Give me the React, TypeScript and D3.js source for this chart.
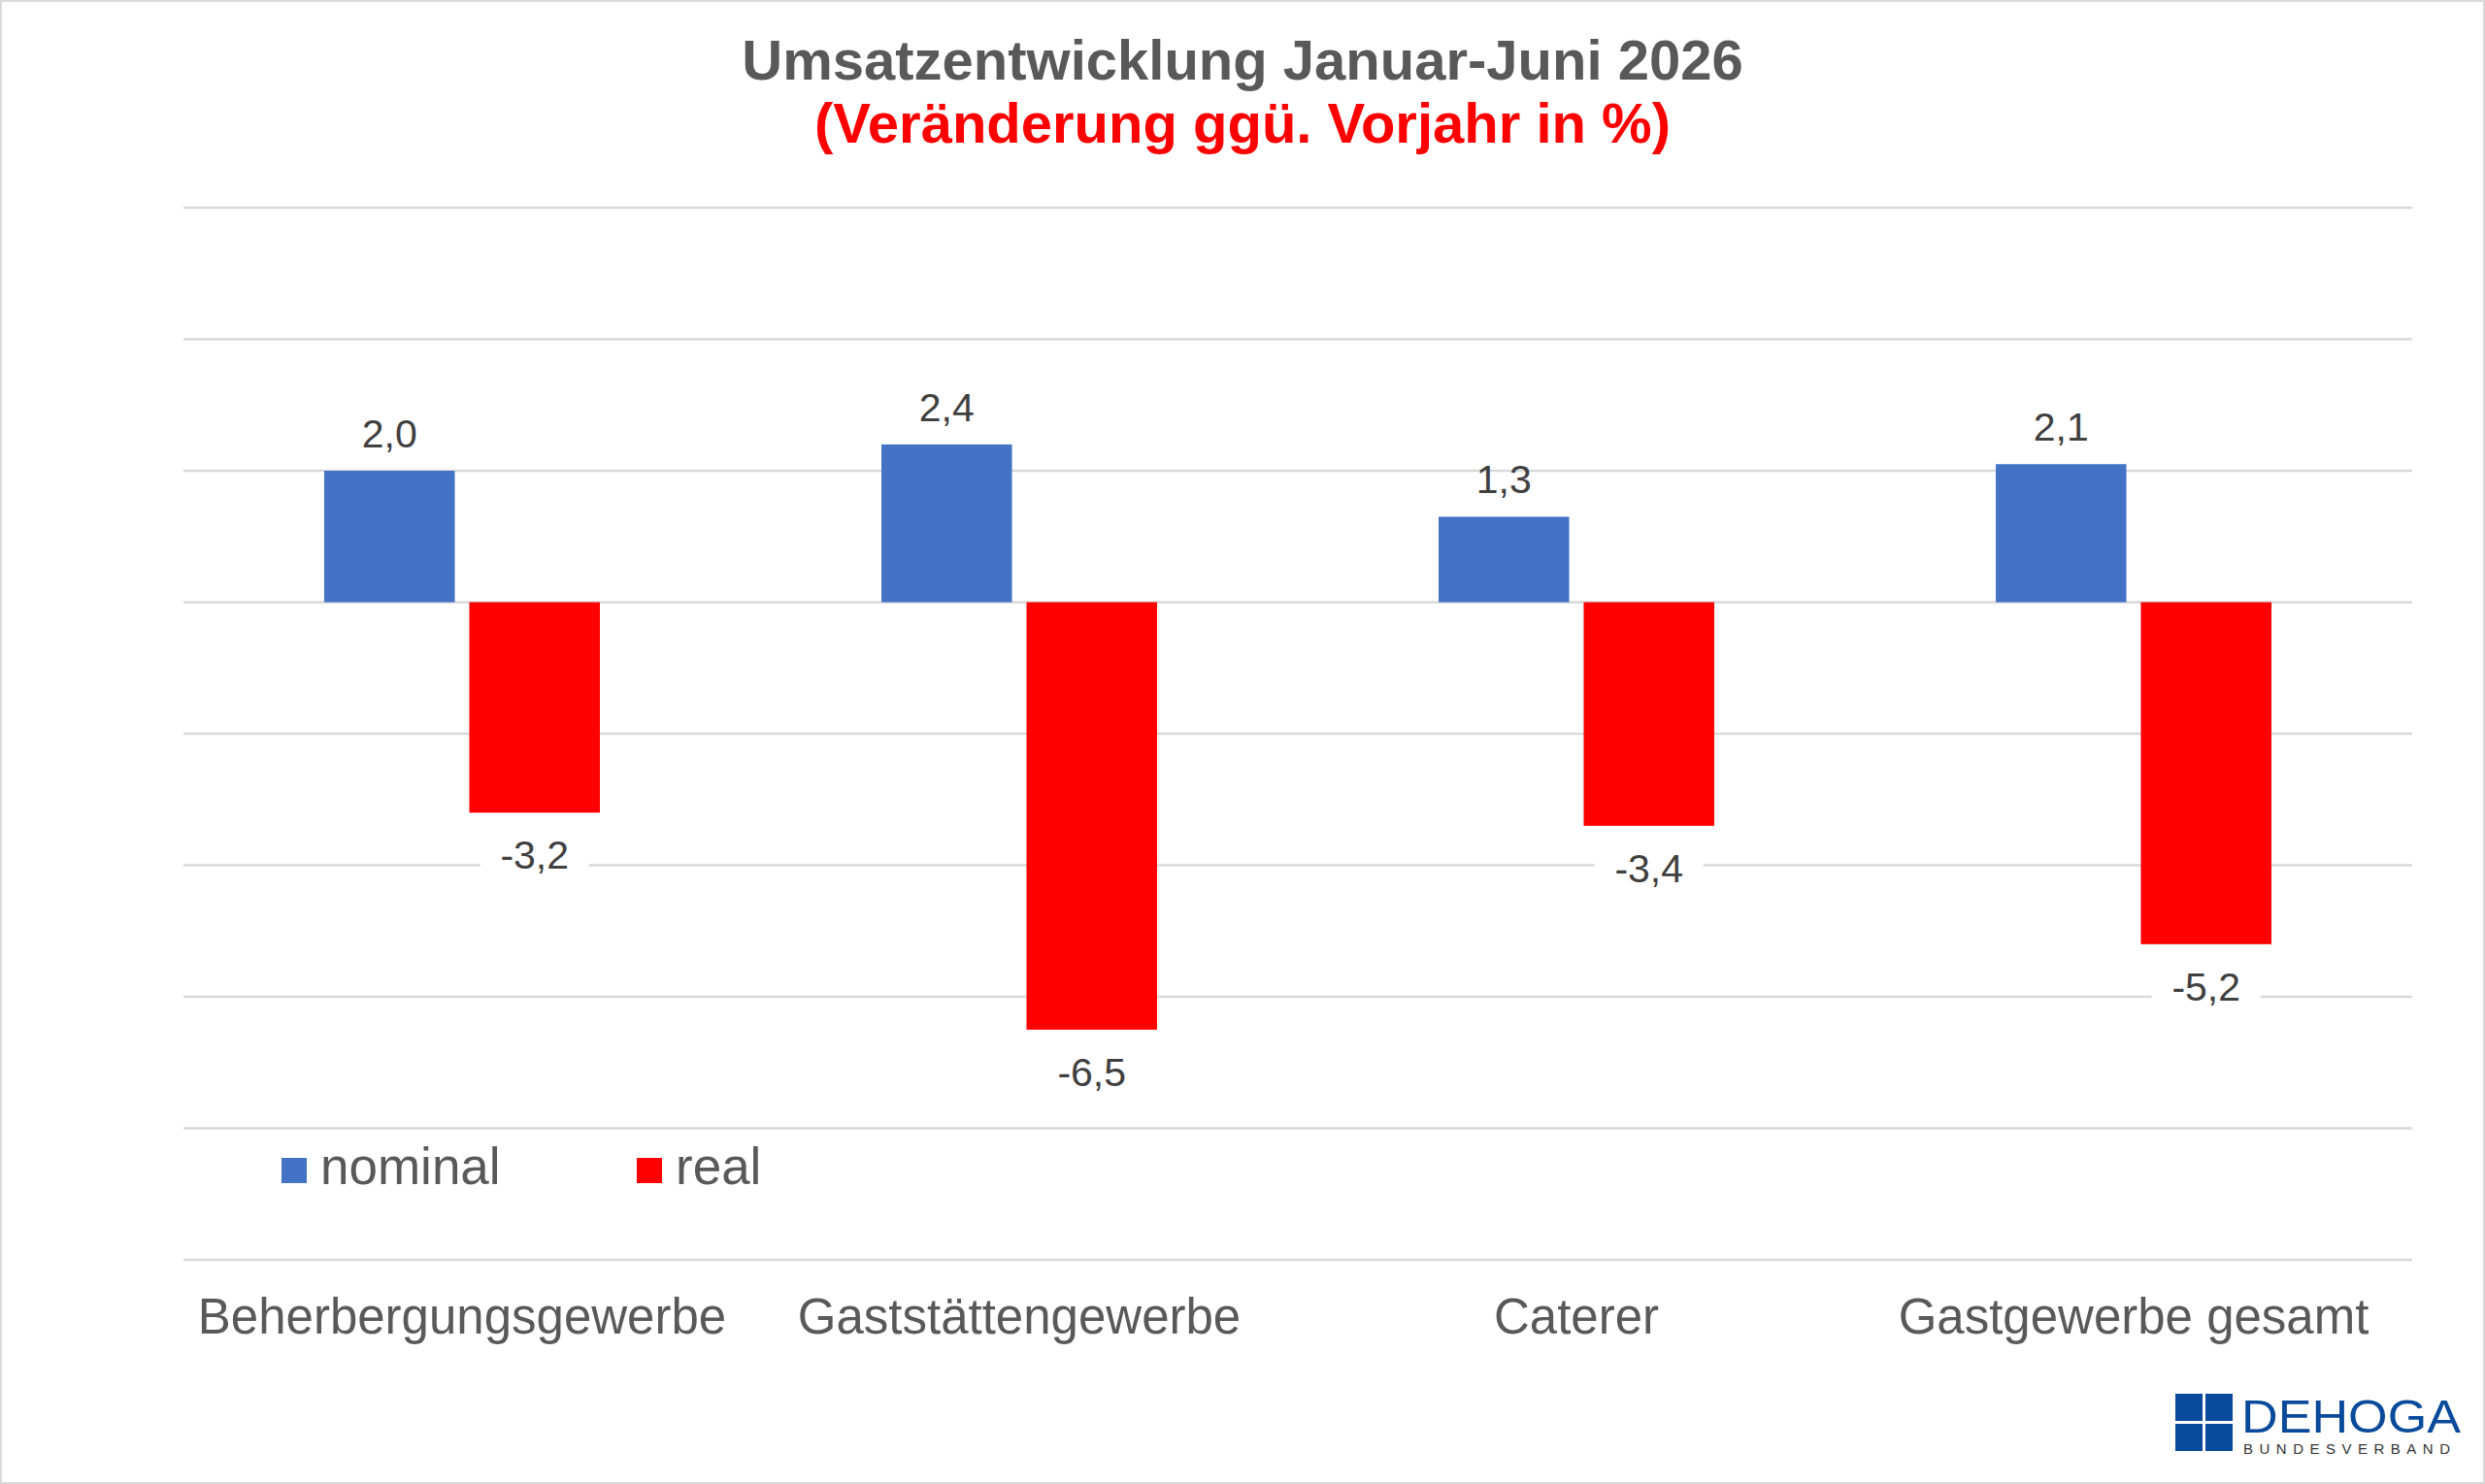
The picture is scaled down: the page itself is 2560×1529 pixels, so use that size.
import * as d3 from 'd3';
import React from 'react';

const categories = ['Beherbergungsgewerbe', 'Gaststättengewerbe', 'Caterer', 'Gastgewerbe gesamt'];
const nominal = [2.0, 2.4, 1.3, 2.1];
const real = [-3.2, -6.5, -3.4, -5.2];
const seriesNames = ['nominal', 'real'];
const colors = ['#4472C4', '#FF0000'];
const ticks = [-10, -8, -6, -4, -2, 0, 2, 4, 6];

const W = 2560;
const H = 1529;

const App: React.FC = () => {
  const x = d3.scaleBand().domain(categories).range([189, 2485]);
  const inner = d3.scaleBand().domain(seriesNames).range([145, 429]).paddingInner(0.1).paddingOuter(0);
  const y = d3.scaleLinear().domain([-10, 6]).range([1298, 214]);
  const fmt = (v: number) => v.toFixed(1).replace('.', ',');
  const font = 'Arial, "Liberation Sans", sans-serif';
  const grey = '#595959';

  return (
    <svg width={W} height={H} style={{ display: 'block', position: 'absolute', left: 0, top: 0 }} fontFamily={font}>
      <rect x={1} y={1} width={W - 2} height={H - 2} fill="#fff" stroke="#d9d9d9" strokeWidth={2} />
      <text x={1280} y={82} textAnchor="middle" fontSize={58} fontWeight="bold" fill={grey}>Umsatzentwicklung Januar-Juni 2026</text>
      <text x={1280} y={147} textAnchor="middle" fontSize={58} fontWeight="bold" fill="#FF0000">(Veränderung ggü. Vorjahr in %)</text>
      {ticks.map((t) => (
        <line key={t} x1={189} x2={2485} y1={y(t)} y2={y(t)} stroke="#d9d9d9" strokeWidth={2.5} />
      ))}
      {categories.map((c, i) =>
        [nominal[i], real[i]].map((v, j) => {
          const bx = (x(c) as number) + (inner(seriesNames[j]) as number);
          const bw = inner.bandwidth();
          const top = y(Math.max(0, v));
          const h = Math.abs(y(v) - y(0));
          const ly = v >= 0 ? y(v) - 24 : y(v) + 58;
          return (
            <g key={c + j}>
              <rect x={bx} y={top} width={bw} height={h} fill={colors[j]} />
              {v < 0 && <rect x={bx + bw / 2 - 56} y={ly - 42} width={112} height={52} fill="#fff" />}
              <text x={bx + bw / 2} y={ly} textAnchor="middle" fontSize={41} fill="#404040">{fmt(v)}</text>
            </g>
          );
        })
      )}
      {categories.map((c) => (
        <text key={c} x={(x(c) as number) + x.bandwidth() / 2} y={1374} textAnchor="middle" fontSize={51} fill={grey}>{c}</text>
      ))}
      {seriesNames.map((s, j) => (
        <g key={s} transform={`translate(${290 + j * 366},1193)`}>
          <rect x={0} y={0} width={26} height={26} fill={colors[j]} />
          <text x={40} y={27} fontSize={53} fill={grey}>{s}</text>
        </g>
      ))}
      <g transform="translate(2241,1436)">
        <rect x={0} y={0} width={28} height={28} fill="#0a4a9a" />
        <rect x={31} y={0} width={28} height={28} fill="#0a4a9a" />
        <rect x={0} y={31} width={28} height={28} fill="#0a4a9a" />
        <rect x={31} y={31} width={28} height={28} fill="#0a4a9a" />
        <text x={68} y={40} fontSize={48} fill="#0a4a9a" textLength={226} lengthAdjust="spacingAndGlyphs">DEHOGA</text>
        <text x={70} y={62} fontSize={15} fill="#333" letterSpacing={6.5}>BUNDESVERBAND</text>
      </g>
    </svg>
  );
};

export default App;
